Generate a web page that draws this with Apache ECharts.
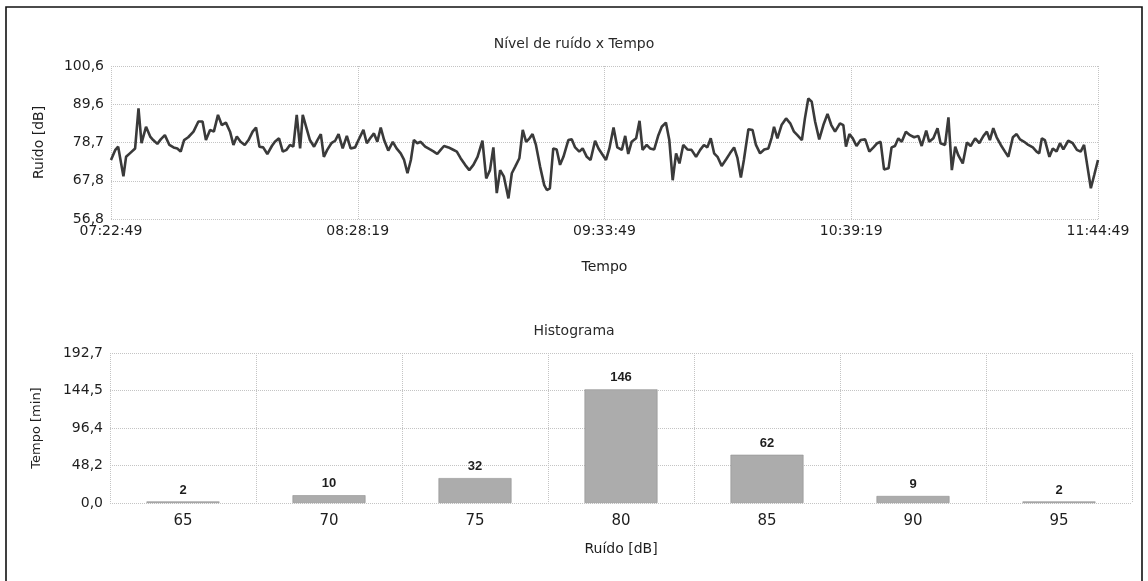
<!DOCTYPE html>
<html>
<head>
<meta charset="utf-8">
<script src="https://cdn.jsdelivr.net/npm/echarts@6/dist/echarts.min.js"></script>
<style>
html,body{margin:0;padding:0;background:#fff;}
#chart{width:1148px;height:581px;}
</style>
</head>
<body>
<div id="chart"></div>
<script>
// Minutes since 07:22:49 for each read vertex of the noise line
const minutes = [0,1.1,1.9,3.3,4.0,5.0,6.4,7.3,8.1,9.3,10.4,11.2,12.3,13.2,14.3,15.5,16.6,17.6,18.5,19.4,20.5,21.9,23.2,24.3,25.2,26.3,27.3,28.4,29.4,30.5,31.6,32.5,33.4,34.4,35.5,36.5,37.6,38.5,39.4,40.4,41.5,42.7,43.5,44.6,45.6,46.6,47.5,48.4,49.3,50.2,50.9,51.8,52.8,53.9,54.8,55.7,56.5,57.4,58.5,59.5,60.4,61.5,62.6,63.6,64.8,65.7,
67.0,67.9,68.8,69.8,70.7,71.6,72.5,73.6,74.8,75.8,76.9,77.8,78.7,79.6,80.4,81.3,82.2,83.4,84.7,85.7,86.6,87.5,88.4,89.6,90.7,91.8,92.8,94.0,95.1,96.2,97.3,98.6,99.6,100.6,101.5,102.4,103.3,104.3,105.5,106.4,107.3,108.4,109.3,110.2,111.1,111.9,112.8,113.9,115.0,115.7,116.5,117.4,118.3,119.2,120.1,121.4,122.3,123.2,124.3,125.2,126.3,127.3,128.5,129.4,
131.4,132.3,133.4,134.4,135.6,136.5,137.3,138.2,139.4,140.3,141.1,142.2,143.1,144.2,145.3,146.2,147.3,148.2,149.1,150.0,150.9,151.9,153.0,154.1,155.3,156.4,157.4,158.3,159.2,160.1,161.0,162.1,163.3,164.3,165.4,166.3,167.2,168.0,169.2,170.3,171.2,172.3,173.4,174.5,175.4,176.0,176.9,178.0,179.2,180.3,181.3,182.2,183.4,184.2,185.1,186.0,186.9,188.0,189.1,190.2,191.2,192.2,
193.5,194.4,195.1,196.0,196.9,197.9,199.0,200.2,201.3,202.4,203.4,204.3,205.2,206.4,207.2,208.1,209.0,209.9,211.0,212.1,213.2,214.3,215.2,216.4,217.2,218.3,219.4,220.2,221.4,222.3,223.2,224.1,224.9,226.1,227.2,228.2,229.4,230.5,231.6,232.5,233.3,234.2,235.1,236.2,237.3,238.2,239.4,240.4,241.3,242.4,243.5,244.7,245.7,246.4,247.1,247.9,249.1,250.0,251.0,251.9,252.8,254.1,255.3,256.4,257.4,258.3,259.2,260.1,261.0,262.0];
// Noise level [dB] at each vertex
const noise = [73.7,76.5,77.5,69.0,74.6,75.6,77.0,88.5,78.5,83.2,80.4,79.4,78.3,79.6,80.8,78.0,77.3,77.0,76.1,79.4,80.2,81.8,84.7,84.7,79.4,82.3,81.8,86.6,83.7,84.4,81.8,78.0,80.4,78.9,78.0,79.4,81.8,83.0,77.5,77.3,75.4,77.7,78.9,79.9,76.1,76.6,78.0,77.5,86.6,77.0,86.6,83.2,79.4,77.5,79.4,81.1,74.6,76.6,78.5,79.2,81.1,77.0,80.6,77.0,77.3,79.4,
82.3,78.5,79.9,81.3,78.9,83.0,79.4,76.4,78.9,77.0,75.6,73.7,69.9,73.7,79.4,78.5,78.9,77.5,76.7,76.1,75.4,76.6,77.7,77.3,76.7,76.1,74.2,72.3,70.8,72.3,74.6,79.2,68.4,70.8,77.3,64.2,70.8,68.9,62.7,69.9,71.8,74.2,82.3,78.9,79.9,81.1,78.0,71.8,66.5,65.1,65.6,77.0,76.7,72.3,74.6,79.4,79.6,77.3,76.1,77.0,74.6,73.7,79.2,77.0,
73.7,77.0,83.0,77.3,76.6,80.6,75.4,78.9,79.9,84.9,76.6,78.0,77.0,76.7,80.8,83.2,84.4,79.4,67.9,75.6,72.7,78.0,76.7,76.6,74.6,76.6,78.0,77.3,79.9,75.6,74.6,72.0,73.9,75.6,77.3,74.2,68.7,73.7,82.5,82.3,78.0,75.6,76.7,77.0,80.2,83.2,79.9,83.7,85.6,84.2,81.8,80.8,79.4,85.6,91.3,90.4,84.7,79.6,83.7,86.9,83.7,81.8,
84.2,83.7,77.5,81.1,79.9,77.7,79.4,79.6,76.1,77.3,78.5,78.9,71.0,71.3,77.3,77.7,79.9,78.9,81.8,80.8,80.2,80.6,77.7,82.1,78.9,79.9,82.8,78.5,78.0,85.9,70.8,77.5,75.1,72.7,78.7,77.7,79.9,78.5,80.6,81.8,79.4,82.8,80.2,78.0,76.1,74.6,80.2,81.1,79.6,78.9,78.0,77.3,76.1,75.6,79.9,79.4,74.6,77.0,76.1,78.5,76.7,79.2,78.5,76.6,76.1,78.0,71.8,65.6,69.4,73.7];

const timeLabels = ['07:22:49','08:28:19','09:33:49','10:39:19','11:44:49'];
const noiseTicks = ['56,8','67,8','78,7','89,6','100,6'];

const bins = ['65','70','75','80','85','90','95'];
const counts = [2,10,32,146,62,9,2];
const countTicks = ['0,0','48,2','96,4','144,5','192,7'];

const FONT = 'DejaVu Sans';
const TXT = '#1e1e1e';
const GRID = '#c4c4c4';
const dotted = {show:true, lineStyle:{type:'dotted', color:GRID, width:1}};

const chart = echarts.init(document.getElementById('chart'), null, {renderer:'canvas'});
chart.setOption({
  animation:false,
  backgroundColor:'#fff',
  textStyle:{fontFamily:FONT},
  graphic:[{type:'rect', shape:{x:6, y:7, width:1136, height:620}, style:{fill:'none', stroke:'#111', lineWidth:1.6}, silent:true}],
  title:[
    {text:'Nível de ruído x Tempo', left:'center', top:32, textStyle:{fontFamily:FONT, fontSize:14, fontWeight:'normal', color:'#2a2a2a'}},
    {text:'Histograma', left:'center', top:319, textStyle:{fontFamily:FONT, fontSize:14, fontWeight:'normal', color:'#2a2a2a'}}
  ],
  grid:[
    {left:111, right:50, top:66, height:153},
    {left:110, right:16, top:353, height:150}
  ],
  xAxis:[
    {type:'value', gridIndex:0, min:0, max:262, interval:65.5,
     axisLine:{show:false}, axisTick:{show:false}, splitLine:dotted,
     axisLabel:{margin:5, fontSize:14, color:TXT, fontFamily:FONT,
       formatter:(v)=>timeLabels[Math.round(v/65.5)]},
     name:'Tempo', nameLocation:'middle', nameGap:41,
     nameTextStyle:{fontSize:14, color:TXT, fontFamily:FONT}},
    {type:'category', gridIndex:1, data:bins,
     axisLine:{show:false}, axisTick:{show:false},
     splitLine:{show:true, interval:0, lineStyle:{type:'dotted', color:GRID}},
     axisLabel:{margin:11, fontSize:15, color:TXT, fontFamily:FONT},
     name:'Ruído [dB]', nameLocation:'middle', nameGap:39,
     nameTextStyle:{fontSize:14, color:TXT, fontFamily:FONT}}
  ],
  yAxis:[
    {type:'value', gridIndex:0, min:56.8, max:100.6, interval:10.95,
     axisLine:{show:false}, axisTick:{show:false}, splitLine:dotted,
     axisLabel:{margin:7, fontSize:14, color:TXT, fontFamily:FONT,
       formatter:(v)=>noiseTicks[Math.round((v-56.8)/10.95)]},
     name:'Ruído [dB]', nameLocation:'middle', nameGap:65,
     nameTextStyle:{fontSize:14, color:TXT, fontFamily:FONT}},
    {type:'value', gridIndex:1, min:0, max:192.7, interval:48.175,
     axisLine:{show:false}, axisTick:{show:false}, splitLine:dotted,
     axisLabel:{margin:7, fontSize:14, color:TXT, fontFamily:FONT,
       formatter:(v)=>countTicks[Math.round(v/48.175)]},
     name:'Tempo [min]', nameLocation:'middle', nameGap:67,
     nameTextStyle:{fontSize:13, color:TXT, fontFamily:FONT}}
  ],
  series:[
    {type:'line', xAxisIndex:0, yAxisIndex:0, showSymbol:false,
     data:minutes.map((m,i)=>[m, noise[i]]),
     lineStyle:{width:2.6, color:'#3a3a3a'}},
    {type:'bar', xAxisIndex:1, yAxisIndex:1, data:counts, barWidth:'50%',
     itemStyle:{color:'#acacac', borderColor:'#919191', borderWidth:0.6},
     label:{show:true, position:'top', distance:5, fontSize:13, fontWeight:'bold', color:TXT, fontFamily:'Liberation Sans'}}
  ]
});
</script>
</body>
</html>
